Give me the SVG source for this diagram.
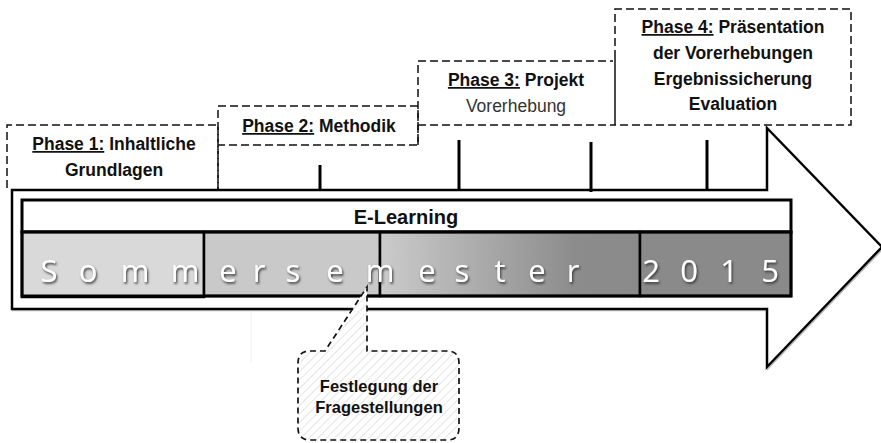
<svg xmlns="http://www.w3.org/2000/svg" width="881" height="443" viewBox="0 0 881 443">
<style>
.dash{fill:none;stroke:#111;stroke-width:1.5;stroke-dasharray:8 4}
.lbl{font-family:"Liberation Sans",Arial,sans-serif;font-size:17.5px;font-weight:bold;fill:#111;text-anchor:middle}
.reg{font-weight:normal;fill:#333}
.u{text-decoration:underline}
.tick{stroke:#000;stroke-width:3}
.seg{stroke:#000;stroke-width:2.5}
.big{font-family:"Open Sans","Liberation Sans",sans-serif;font-weight:normal;font-size:31px;fill:#fff;text-anchor:middle}
</style>
<defs>
<linearGradient id="g3" x1="0" x2="1" y1="0" y2="0">
<stop offset="0" stop-color="#cbcbcb"/>
<stop offset="0.75" stop-color="#8c8c8c"/>
<stop offset="1" stop-color="#8a8a8a"/>
</linearGradient>
<pattern id="hatch" width="6" height="6" patternUnits="userSpaceOnUse" patternTransform="rotate(45)">
<rect width="6" height="6" fill="#fff"/>
<line x1="0" y1="0" x2="0" y2="6" stroke="#d4d4d4" stroke-width="1.2"/>
</pattern>
<filter id="sh" x="-5%" y="-20%" width="110%" height="150%">
<feDropShadow dx="1.2" dy="1.8" stdDeviation="0.9" flood-color="#333" flood-opacity="0.9"/>
</filter>
<filter id="ash" x="-5%" y="-5%" width="110%" height="110%">
<feDropShadow dx="1" dy="1" stdDeviation="0.6" flood-color="#888" flood-opacity="0.6"/>
</filter>
</defs>

<g id="phase-boxes">
<g id="phase1">
<path class="dash" d="M7,188 V125 H218 V190"/>
<text class="lbl" y="150"><tspan x="114" class="u">Phase 1:</tspan> Inhaltliche</text>
<text class="lbl" x="114" y="176">Grundlagen</text>
</g>
<g id="phase2">
<path class="dash" d="M218,190 V106 H418 V145 H218"/>
<text class="lbl" x="319" y="132"><tspan class="u">Phase 2:</tspan> Methodik</text>
</g>
<g id="phase3">
<path class="dash" d="M418,145 V61 H613 M418,125 H615"/>
<line x1="615" y1="58" x2="615" y2="125" stroke="#111" stroke-width="1.5"/>
<text class="lbl" x="516" y="86"><tspan class="u">Phase 3:</tspan> Projekt</text>
<text class="lbl reg" x="516" y="112">Vorerhebung</text>
</g>
<g id="phase4">
<path class="dash" d="M615,58 V9 H851 V125 H615"/>
<text class="lbl" x="733" y="33"><tspan class="u">Phase 4:</tspan> Präsentation</text>
<text class="lbl" x="733" y="59">der Vorerhebungen</text>
<text class="lbl" x="733" y="85">Ergebnissicherung</text>
<text class="lbl" x="733" y="110">Evaluation</text>
</g>
</g>

<g id="arrow">
<path d="M12,190 H767 V128 L882,247 L767,367 V309 H12 Z" fill="#fff" stroke="#000" stroke-width="2.5" stroke-linejoin="miter" filter="url(#ash)"/>
</g>

<g id="connectors">
<line class="tick" x1="320" y1="165" x2="320" y2="190"/>
<line class="tick" x1="459" y1="140" x2="459" y2="190"/>
<line class="tick" x1="591" y1="142" x2="591" y2="192"/>
<line class="tick" x1="707" y1="140" x2="707" y2="190"/>
<line x1="251" y1="312" x2="251" y2="362" stroke="#eeeeee" stroke-width="1"/>
</g>

<g id="elearning">
<rect x="22" y="200" width="769" height="32" fill="#fff" stroke="#000" stroke-width="3"/>
<text class="lbl" x="406" y="224" style="font-size:20px">E-Learning</text>
</g>

<g id="semester">
<rect x="22" y="232" width="182" height="65" fill="#d9d9d9" class="seg"/>
<rect x="204" y="232" width="176" height="64" fill="#c9c9c9" class="seg"/>
<rect x="380" y="232" width="260" height="64" fill="url(#g3)" class="seg"/>
<rect x="640" y="232" width="151" height="64" fill="#8a8a8a" class="seg"/>
<rect x="22" y="232" width="769" height="64" fill="none" stroke="#000" stroke-width="3"/>
<text class="big" y="282" x="49 88 135 185 228 259 293 335 380 427 462 500 537 573 651 689 729 770" filter="url(#sh)">Sommersemester2015</text>
</g>

<g id="callout">
<path d="M310,351 H325 L367,287 V351 H447 Q459,351 459,363 V428 Q459,440 447,440 H310 Q298,440 298,428 V363 Q298,351 310,351 Z" fill="url(#hatch)" stroke="#111" stroke-width="1.7" stroke-dasharray="6 4"/>
<text class="lbl" x="379" y="392" style="font-size:16.5px">Festlegung der</text>
<text class="lbl" x="379" y="413" style="font-size:16.5px">Fragestellungen</text>
</g>
</svg>
